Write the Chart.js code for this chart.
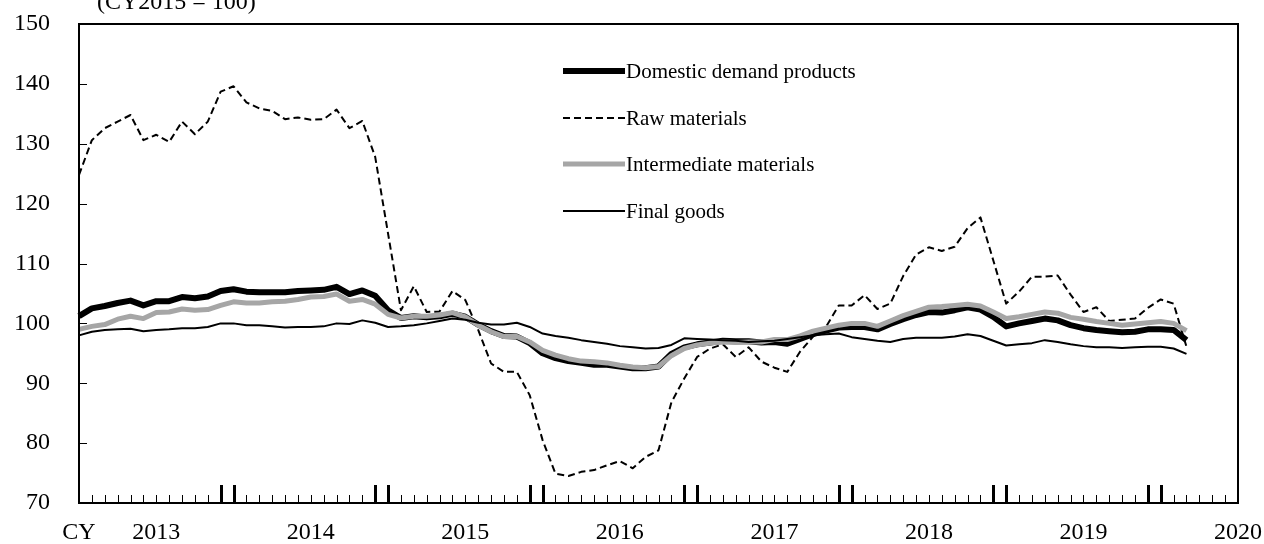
<!DOCTYPE html>
<html lang="en">
<head>
<meta charset="UTF-8">
<title>Domestic demand products price index</title>
<script src="https://cdn.jsdelivr.net/npm/chart.js"></script>
<style>
  html, body { margin: 0; padding: 0; background: #fff; }
</style>
</head>
<body>
<canvas id="priceChart" width="1264" height="544"></canvas>
<script>
// months on the x axis: Jan 2013 .. Jul 2020 (data runs to Mar 2020)
const months = [];
for (let y = 2013; y <= 2020; y++) {
    for (let m = 1; m <= 12; m++) {
        if (months.length < 91) months.push(y + '/' + String(m).padStart(2, '0'));
    }
}

// text shown under the axis, keyed by month label
const xTickText = {
    '2013/01': 'CY', '2013/07': '2013', '2014/07': '2014', '2015/07': '2015',
    '2016/07': '2016', '2017/07': '2017', '2018/07': '2018', '2019/07': '2019', '2020/07': '2020'
};
// months that get the heavy double tick
const heavyTicks = ['2013/12', '2014/01', '2014/12', '2015/01', '2015/12', '2016/01', '2016/12', '2017/01',
    '2017/12', '2018/01', '2018/12', '2019/01', '2019/12', '2020/01'];

const domestic = [101.2, 102.5, 102.9, 103.4, 103.8, 103.0, 103.7, 103.7, 104.4, 104.2, 104.5, 105.4,
    105.7, 105.3, 105.2, 105.2, 105.2, 105.4, 105.5, 105.6, 106.1, 104.9, 105.5, 104.6,
    102.2, 100.9, 101.2, 101.0, 101.2, 101.6, 101.1, 99.8, 98.7, 97.9, 97.8, 96.7,
    95.0, 94.2, 93.7, 93.4, 93.1, 93.1, 92.8, 92.5, 92.5, 92.8, 94.9, 96.0,
    96.5, 96.8, 97.1, 97.0, 97.0, 96.8, 96.9, 96.6, 97.4, 98.2, 98.8, 99.3,
    99.4, 99.4, 99.0, 99.9, 100.7, 101.4, 101.9, 101.8, 102.2, 102.7, 102.3, 101.1,
    99.5, 100.0, 100.4, 100.8, 100.5, 99.7, 99.2, 98.9, 98.7, 98.5, 98.6, 99.0,
    99.0, 98.9, 97.2];
const raw = [124.8, 130.6, 132.6, 133.7, 134.8, 130.6, 131.5, 130.3, 133.7, 131.6, 133.7, 138.7,
    139.6, 136.9, 135.9, 135.5, 134.1, 134.4, 134.0, 134.1, 135.7, 132.6, 133.8, 127.8,
    115.0, 102.2, 106.2, 101.9, 102.0, 105.4, 103.9, 98.9, 93.3, 91.9, 91.9, 88.0,
    80.5, 74.9, 74.5, 75.2, 75.5, 76.3, 77.0, 75.8, 77.7, 78.8, 86.8, 90.8,
    94.4, 95.8, 96.5, 94.4, 96.0, 93.6, 92.6, 91.9, 95.3, 97.8, 99.4, 103.0,
    103.0, 104.7, 102.4, 103.3, 107.9, 111.5, 112.7, 112.1, 112.8, 115.9, 117.7, 110.5,
    103.3, 105.3, 107.8, 107.8, 108.0, 104.8, 101.9, 102.7, 100.4, 100.6, 100.8, 102.6,
    104.0, 103.3, 96.1];
const intermediate = [99.0, 99.5, 99.8, 100.7, 101.2, 100.8, 101.8, 101.9, 102.4, 102.2, 102.3, 103.0,
    103.6, 103.4, 103.4, 103.6, 103.7, 104.0, 104.4, 104.5, 104.9, 103.7, 104.0, 103.2,
    101.5, 100.9, 101.2, 101.2, 101.4, 101.8, 101.1, 99.7, 98.6, 97.8, 97.8, 96.9,
    95.5, 94.7, 94.1, 93.7, 93.6, 93.4, 93.0, 92.7, 92.6, 92.8, 94.6, 95.8,
    96.4, 96.7, 96.9, 96.8, 96.9, 96.9, 97.3, 97.3, 97.9, 98.7, 99.2, 99.7,
    100.0, 100.0, 99.5, 100.4, 101.3, 102.0, 102.7, 102.8, 103.0, 103.2, 102.9, 101.9,
    100.8, 101.1, 101.5, 101.9, 101.7, 101.0, 100.7, 100.3, 100.0, 99.7, 99.9, 100.1,
    100.3, 100.0, 98.8];
const finalGoods = [98.0, 98.6, 98.9, 99.0, 99.1, 98.7, 98.9, 99.0, 99.2, 99.2, 99.4, 100.0,
    100.0, 99.7, 99.7, 99.5, 99.3, 99.4, 99.4, 99.5, 100.0, 99.9, 100.5, 100.1,
    99.4, 99.5, 99.7, 100.0, 100.4, 100.8, 100.6, 100.1, 99.8, 99.8, 100.1, 99.4,
    98.3, 97.9, 97.6, 97.2, 96.9, 96.6, 96.2, 96.0, 95.8, 95.9, 96.4, 97.5,
    97.4, 97.3, 97.2, 97.1, 96.9, 97.0, 97.1, 97.4, 97.7, 98.0, 98.2, 98.3,
    97.7, 97.4, 97.1, 96.9, 97.4, 97.6, 97.6, 97.6, 97.8, 98.2, 97.9, 97.1,
    96.3, 96.5, 96.7, 97.2, 96.9, 96.5, 96.2, 96.0, 96.0, 95.9, 96.0, 96.1,
    96.1, 95.8, 94.9];

const seriesNames = ['Domestic demand products', 'Raw materials', 'Intermediate materials', 'Final goods'];

const serif = "'Liberation Serif', 'Times New Roman', serif";
const tickFont = { family: serif, size: 24 };

// keep label overhang from pushing the plot area in; layout padding does the spacing
function fixScale(scale, w, h) {
    if (w !== undefined) scale.width = w;
    if (h !== undefined) scale.height = h;
    scale.paddingTop = 0;
    scale.paddingBottom = 0;
    scale.paddingLeft = 0;
    scale.paddingRight = 0;
}

// box around the plot, inward tick marks, unit note and the legend
const chartDecor = {
    id: 'chartDecor',
    afterDatasetsDraw(chart) {
        const ctx = chart.ctx;
        const area = chart.chartArea;
        const xs = chart.scales.x;
        const ys = chart.scales.y;
        ctx.save();
        ctx.strokeStyle = '#000';
        ctx.fillStyle = '#000';

        // month ticks
        months.forEach((m, i) => {
            const px = Math.round(xs.getPixelForValue(i)) + 0.5;
            const heavy = heavyTicks.includes(m);
            ctx.lineWidth = heavy ? 3 : 1;
            ctx.beginPath();
            ctx.moveTo(px, area.bottom);
            ctx.lineTo(px, area.bottom - (heavy ? 18 : 8));
            ctx.stroke();
        });
        // y ticks
        ctx.lineWidth = 1;
        for (let v = 80; v < 150; v += 10) {
            const py = Math.round(ys.getPixelForValue(v)) + 0.5;
            ctx.beginPath();
            ctx.moveTo(area.left, py);
            ctx.lineTo(area.left + 8, py);
            ctx.stroke();
        }
        // frame
        ctx.lineWidth = 2;
        ctx.strokeRect(area.left, area.top, area.right - area.left, area.bottom - area.top);

        // unit note, cut by the top edge as in the source
        ctx.font = '24px ' + serif;
        ctx.textAlign = 'left';
        ctx.textBaseline = 'alphabetic';
        ctx.fillText('(CY2015 = 100)', 97, 9);

        // legend
        const lx0 = 563, lx1 = 625, ly0 = 71, gap = 46.7;
        ctx.font = '21px ' + serif;
        ctx.textBaseline = 'middle';
        chart.data.datasets.forEach((ds, i) => {
            const y = Math.round(ly0 + i * gap);
            ctx.save();
            ctx.strokeStyle = ds.borderColor;
            ctx.lineWidth = ds.borderWidth;
            ctx.setLineDash(ds.borderDash || []);
            ctx.beginPath();
            ctx.moveTo(lx0, y);
            ctx.lineTo(lx1, y);
            ctx.stroke();
            ctx.restore();
            ctx.fillText(ds.label, lx1 + 1, y + 1);
        });
        ctx.restore();
    }
};

const chart = new Chart(document.getElementById('priceChart'), {
    type: 'line',
    data: {
        labels: months,
        datasets: [
            { label: seriesNames[0], data: domestic, borderColor: '#000000', borderWidth: 6, order: 4 },
            { label: seriesNames[1], data: raw, borderColor: '#000000', borderWidth: 2, borderDash: [7, 4], order: 3 },
            { label: seriesNames[2], data: intermediate, borderColor: '#a6a6a6', borderWidth: 5, order: 2 },
            { label: seriesNames[3], data: finalGoods, borderColor: '#000000', borderWidth: 2, order: 1 }
        ]
    },
    options: {
        responsive: false,
        animation: false,
        devicePixelRatio: 1,
        layout: { padding: { top: 24, right: 26, left: 0, bottom: 0 } },
        elements: {
            point: { radius: 0 },
            line: { tension: 0, borderJoinStyle: 'round', borderCapStyle: 'butt', fill: false }
        },
        plugins: { legend: { display: false }, tooltip: { enabled: false } },
        scales: {
            x: {
                type: 'category',
                offset: false,
                grid: { display: false, drawTicks: false },
                border: { display: false },
                ticks: {
                    autoSkip: false,
                    maxRotation: 0,
                    padding: 15,
                    color: '#000',
                    font: tickFont,
                    callback: (value, index) => xTickText[months[index]] || ''
                },
                afterFit: (scale) => fixScale(scale, undefined, 41)
            },
            y: {
                min: 70,
                max: 150,
                grid: { display: false, drawTicks: false },
                border: { display: false },
                ticks: { stepSize: 10, padding: 29, color: '#000', font: tickFont },
                afterFit: (scale) => fixScale(scale, 79, undefined)
            }
        }
    },
    plugins: [chartDecor]
});
</script>
</body>
</html>
